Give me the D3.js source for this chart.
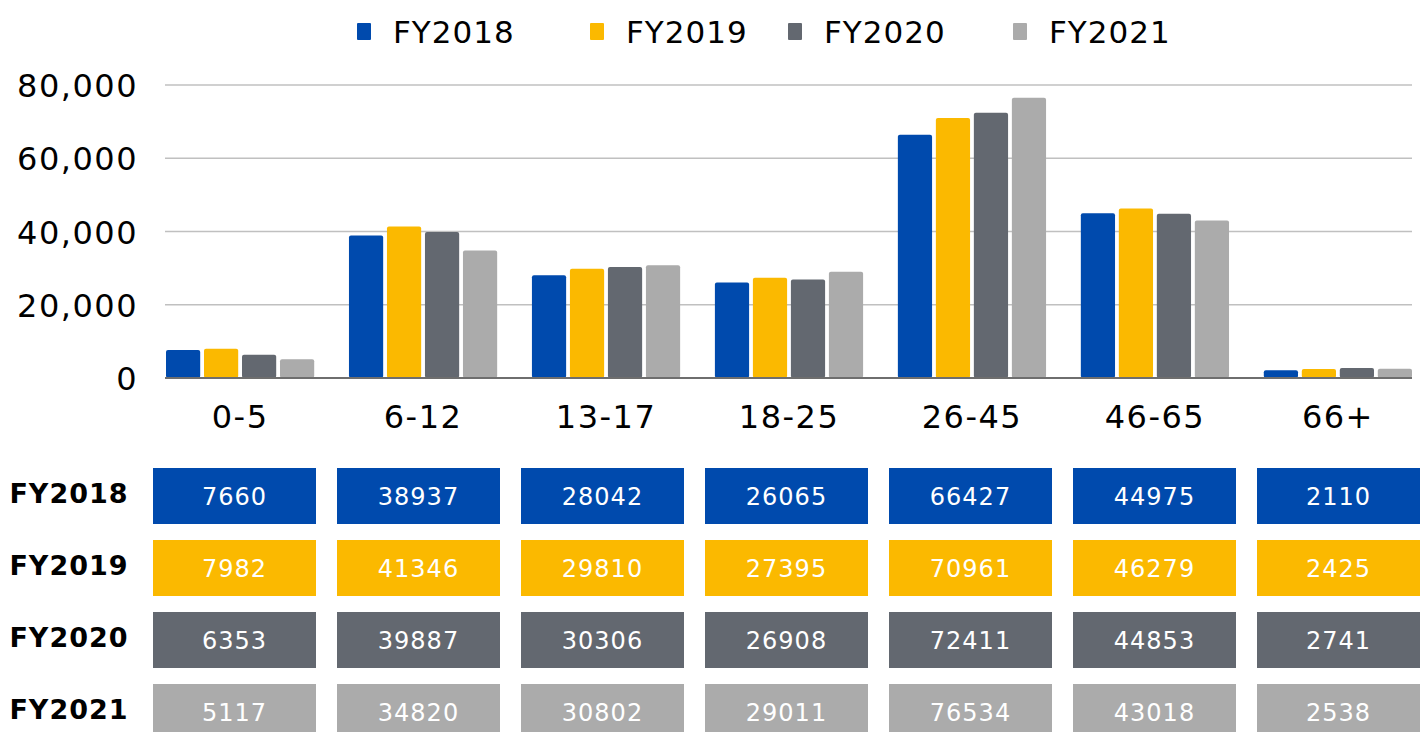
<!DOCTYPE html>
<html lang="en">
<head>
<meta charset="utf-8">
<title>Age groups by fiscal year</title>
<script src="https://cdn.jsdelivr.net/npm/d3@7"></script>
<style>
  body { margin: 0; background: #fff; }
  text { font-family: "DejaVu Sans", "Open Sans", sans-serif; }
  .tick text { font-size: 32px; fill: #000; letter-spacing: 1.5px; }
  .legend text { font-size: 31px; fill: #000; letter-spacing: 1px; }
  .rowLabel { font-size: 27px; font-weight: bold; fill: #000; letter-spacing: 1px; }
  .cellText { font-size: 24px; fill: #fff; letter-spacing: 1px; }
</style>
</head>
<body>
<svg id="chart" width="1424" height="732"></svg>
<script>
// categories and series
var ageGroups = ["0-5", "6-12", "13-17", "18-25", "26-45", "46-65", "66+"];
var years = ["FY2018", "FY2019", "FY2020", "FY2021"];
var fy2018 = [7660, 38937, 28042, 26065, 66427, 44975, 2110];
var fy2019 = [7982, 41346, 29810, 27395, 70961, 46279, 2425];
var fy2020 = [6353, 39887, 30306, 26908, 72411, 44853, 2741];
var fy2021 = [5117, 34820, 30802, 29011, 76534, 43018, 2538];
var yTicks = [0, 20000, 40000, 60000, 80000];
var colors = ["#004aad", "#fbb900", "#636870", "#ababab"];

var series = [fy2018, fy2019, fy2020, fy2021];

var svg = d3.select("#chart");
var plotLeft = 165, plotRight = 1412, plotTop = 85, plotBottom = 378;

var x0 = d3.scaleBand().domain(ageGroups).range([plotLeft + 1, plotRight]).paddingInner(0.19).paddingOuter(0);
var x1 = d3.scaleBand().domain(years).range([0, x0.bandwidth()]).paddingInner(0.1);
var y = d3.scaleLinear().domain([0, 80000]).range([plotBottom, plotTop]);

// gridlines
svg.append("g").selectAll("line")
  .data(yTicks.slice(1))
  .enter().append("line")
  .attr("x1", plotLeft).attr("x2", plotRight)
  .attr("y1", function(d) { return y(d); })
  .attr("y2", function(d) { return y(d); })
  .attr("stroke", "#c0c0c0")
  .attr("stroke-width", 1.5);

// y axis labels
var yAxis = svg.append("g")
  .attr("transform", "translate(" + (plotLeft - 27) + ",0)")
  .call(d3.axisLeft(y).tickValues(yTicks).tickFormat(d3.format(",")).tickSize(0).tickPadding(0));
yAxis.select(".domain").remove();
yAxis.selectAll("text").attr("dy", "0.36em");

// bars
var groups = svg.append("g").selectAll("g")
  .data(ageGroups)
  .enter().append("g")
  .attr("transform", function(d) { return "translate(" + x0(d) + ",0)"; });

groups.selectAll("rect")
  .data(function(d, i) { return years.map(function(yr, j) { return {year: yr, value: series[j][i], idx: j}; }); })
  .enter().append("rect")
  .attr("x", function(d) { return x1(d.year); })
  .attr("y", function(d) { return y(d.value); })
  .attr("width", x1.bandwidth())
  .attr("height", function(d) { return plotBottom - y(d.value); })
  .attr("rx", 2)
  .attr("fill", function(d) { return colors[d.idx]; });

// baseline
svg.append("line")
  .attr("x1", plotLeft).attr("x2", plotRight)
  .attr("y1", plotBottom).attr("y2", plotBottom)
  .attr("stroke", "#6e6e6e")
  .attr("stroke-width", 2);

// x axis labels
var xAxis = svg.append("g")
  .attr("transform", "translate(0," + (plotBottom + 27) + ")")
  .call(d3.axisBottom(x0).tickSize(0).tickPadding(0));
xAxis.select(".domain").remove();
xAxis.selectAll("text").attr("dy", "0.71em");

// legend
var legendX = [357, 590, 788, 1013];
var legend = svg.append("g").attr("class", "legend");
var li = legend.selectAll("g")
  .data(years)
  .enter().append("g")
  .attr("transform", function(d, i) { return "translate(" + legendX[i] + ",23)"; });
li.append("rect")
  .attr("width", 14).attr("height", 17).attr("rx", 1)
  .attr("fill", function(d, i) { return colors[i]; });
li.append("text")
  .attr("x", 36).attr("y", 9).attr("dy", "0.36em")
  .text(function(d) { return d; });

// data table
var cellW = 163, cellH = 56;
var cx = d3.scaleBand().domain(ageGroups).range([153, 153 + 184 * 7 - 21]).paddingInner(21 / 184).paddingOuter(0);
var ry = d3.scaleBand().domain(years).range([468, 468 + 72 * 4 - 16]).paddingInner(16 / 72).paddingOuter(0);

var rows = svg.append("g").selectAll("g")
  .data(years)
  .enter().append("g")
  .attr("transform", function(d) { return "translate(0," + ry(d) + ")"; });

rows.append("text")
  .attr("class", "rowLabel")
  .attr("x", 69)
  .attr("y", cellH / 2 - 3)
  .attr("dy", "0.36em")
  .attr("text-anchor", "middle")
  .text(function(d) { return d; });

rows.each(function(yr, j) {
  var cells = d3.select(this).selectAll("g.cell")
    .data(series[j])
    .enter().append("g")
    .attr("class", "cell")
    .attr("transform", function(d, i) { return "translate(" + cx(ageGroups[i]) + ",0)"; });
  cells.append("rect")
    .attr("width", cellW)
    .attr("height", cellH)
    .attr("fill", colors[j]);
  cells.append("text")
    .attr("class", "cellText")
    .attr("x", cellW / 2)
    .attr("y", cellH / 2)
    .attr("dy", "0.36em")
    .attr("text-anchor", "middle")
    .text(function(d) { return d; });
});
</script>
</body>
</html>
